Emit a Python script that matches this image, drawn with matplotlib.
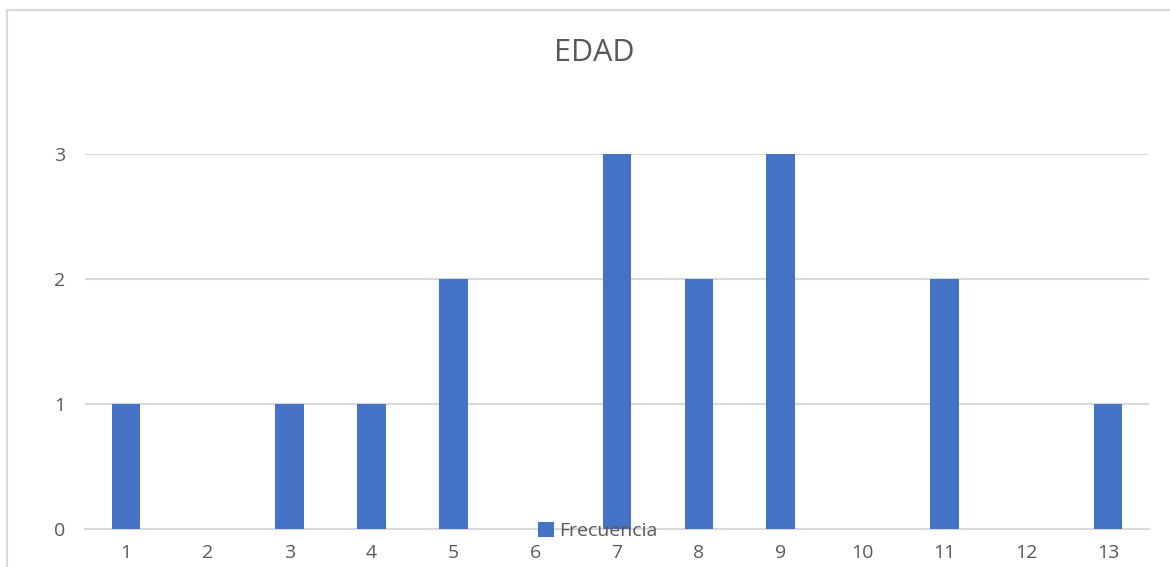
import matplotlib.pyplot as plt
from matplotlib.patches import Rectangle

plt.rcParams['font.family'] = ['Open Sans', 'DejaVu Sans']

categories = [str(i) for i in range(1, 14)]
frecuencia = [1, 0, 1, 1, 2, 0, 3, 2, 3, 0, 2, 0, 1]
y_ticks = [0, 1, 2, 3]

W, H = 1170, 567
fig = plt.figure(figsize=(W / 100, H / 100), dpi=100)
ax = fig.add_axes([85 / W, (H - 529) / H, (1149 - 85) / W, 375 / H])

x = range(len(categories))
ax.bar(x, frecuencia, width=0.35, color='#4472C4', zorder=3, label='Frecuencia')
ax.set_xlim(-0.5, len(categories) - 0.5)
ax.set_ylim(0, 3)
ax.set_yticks(y_ticks)
ax.set_xticks(list(x))
ax.set_xticklabels(categories)
ax.grid(axis='y', color='#D9D9D9', linewidth=1.5, zorder=0)
for s in ['top', 'right', 'left']:
    ax.spines[s].set_visible(False)
ax.spines['bottom'].set_color('#D9D9D9')
ax.spines['bottom'].set_linewidth(1.5)
ax.tick_params(length=0, labelsize=14, labelcolor='#595959')
ax.tick_params(axis='y', pad=14)
ax.tick_params(axis='x', pad=11)

fig.text(594 / W, 1 - 53 / H, 'EDAD', ha='center', va='center', fontsize=22, color='#595959')

leg = ax.legend(loc='center', bbox_to_anchor=(598 / W, 1 - 531 / H), bbox_transform=fig.transFigure,
                frameon=False, fontsize=14, handlelength=0.8, handleheight=0.8, handletextpad=0.3,
                borderpad=0)
for t in leg.get_texts():
    t.set_color('#595959')

fig.patches.append(Rectangle((6.5 / W, -0.1), 1.2, 1 - 9.5 / H + 0.1, transform=fig.transFigure,
                             fill=False, edgecolor='#D9D9D9', linewidth=1.5))

fig.savefig('out.png', dpi=100)
